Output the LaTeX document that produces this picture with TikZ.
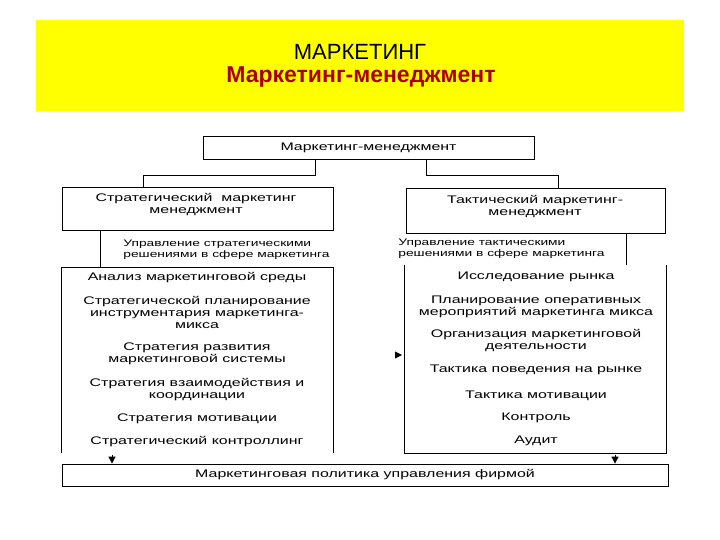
\documentclass[tikz,border=0pt]{standalone}
\usepackage{fontspec}
\setmainfont{Liberation Sans}
\newfontfamily\boxfont[FakeStretch=1.45]{Liberation Sans}
\usetikzlibrary{arrows.meta}
\definecolor{hdryellow}{RGB}{255,255,0}
\definecolor{hdrred}{RGB}{170,0,0}
\begin{document}
\begin{tikzpicture}[x=1pt,y=1pt,line width=0.8pt,
  rect/.style={draw,line width=0.8pt,inner sep=0pt},
  openbox/.style={draw=none,inner sep=0pt},
  item/.style={align=center,inner sep=0pt,font=\boxfont\fontsize{11}{12}\selectfont},
  lbl/.style={align=left,inner sep=0pt,font=\boxfont\fontsize{9.5}{11}\selectfont},
  tipdown/.style={-{Triangle[width=7pt,length=7pt]}}]
\useasboundingbox (0,0) rectangle (720,-540);
\fill[white] (0,0) rectangle (720,-540);
% header
\fill[hdryellow] (36,-20) rectangle (684,-111);
\node[anchor=base,inner sep=0pt,font=\fontsize{22}{26}\selectfont] (t1) at (360,-60) {МАРКЕТИНГ};
\node[anchor=base,inner sep=0pt,text=hdrred,font=\fontsize{23}{27}\selectfont\bfseries] (t2) at (361,-83) {Маркетинг-менеджмент};
% top box
\node[rect,minimum width=331,minimum height=23,font=\boxfont\fontsize{11}{12}\selectfont] (top) at (368.5,-147.5) {Маркетинг-менеджмент};
% strategic and tactical boxes
\node[rect,minimum width=271,minimum height=43] (strat) at (197.5,-208.5) {};
\node[item] (stratT) at (196,-205) {Стратегический\ \ маркетинг\\менеджмент};
\node[rect,minimum width=259,minimum height=45] (tact) at (535.5,-210.5) {};
\node[item] (tactT) at (535,-206.5) {Тактический маркетинг-\\менеджмент};
% connectors from top box
\coordinate (j1) at (315,-175);
\coordinate (j1b) at (143,-175);
\coordinate (j2) at (426,-175);
\coordinate (j2b) at (558,-175);
\draw (top.south -| j1) -- (j1) -- (j1b) -- (strat.north -| j1b);
\draw (top.south -| j2) -- (j2) -- (j2b) -- (tact.north -| j2b);
% labels
\node[lbl,anchor=west] (lblS) at (123,-249.5) {Управление стратегическими\\решениями в сфере маркетинга};
\node[lbl,anchor=west] (lblT) at (398,-248.5) {Управление тактическими\\решениями в сфере маркетинга};
% left open box
\node[openbox,minimum width=271,minimum height=185] (lbox) at (197.5,-360.5) {};
\draw (lbox.south west) -- (lbox.north west) -- (lbox.north east) -- (lbox.south east);
% right open box
\node[openbox,minimum width=261,minimum height=188] (rbox) at (535.5,-359) {};
\draw (rbox.north west) -- (rbox.south west) -- (rbox.south east) -- (rbox.north east);
% vertical connectors
\coordinate (sx) at (100,-230);
\draw (strat.south -| sx) -- (lbox.north -| sx);
\coordinate (tx) at (626,-265);
\draw (tact.south -| tx) -- (tx);
% left items
\node[item] (l1) at (197,-277.5) {Анализ маркетинговой среды};
\node[item] (l2) at (197,-312.5) {Стратегической планирование\\инструментария маркетинга-\\микса};
\node[item] (l3) at (197,-353.5) {Стратегия развития\\маркетинговой системы};
\node[item] (l4) at (197,-390) {Стратегия взаимодействия и\\координации};
\node[item] (l5) at (197,-418.5) {Стратегия мотивации};
\node[item] (l6) at (197,-441.5) {Стратегический контроллинг};
% right items
\node[item] (r1) at (536,-276.5) {Исследование рынка};
\node[item] (r2) at (536,-306.5) {Планирование оперативных\\мероприятий маркетинга микса};
\node[item] (r3) at (536,-341) {Организация маркетинговой\\деятельности};
\node[item] (r4) at (536,-369.5) {Тактика поведения на рынке};
\node[item] (r5) at (536,-395.5) {Тактика мотивации};
\node[item] (r6) at (536,-417.5) {Контроль};
\node[item] (r7) at (536,-440.5) {Аудит};
% bottom box
\node[rect,minimum width=606,minimum height=22,font=\boxfont\fontsize{11}{12}\selectfont] (bot) at (365,-475) {Маркетинговая политика управления фирмой};
% arrows
\coordinate (a1) at (112,-455);
\coordinate (a2) at (615,-455);
\draw[tipdown] (a1) -- (bot.north -| a1);
\draw[tipdown] (a2) -- (bot.north -| a2);
\coordinate (m1) at (402,-355);
\fill (m1) -- ++(-7,3.5) -- ++(0,-7) -- cycle;
\end{tikzpicture}
\end{document}
